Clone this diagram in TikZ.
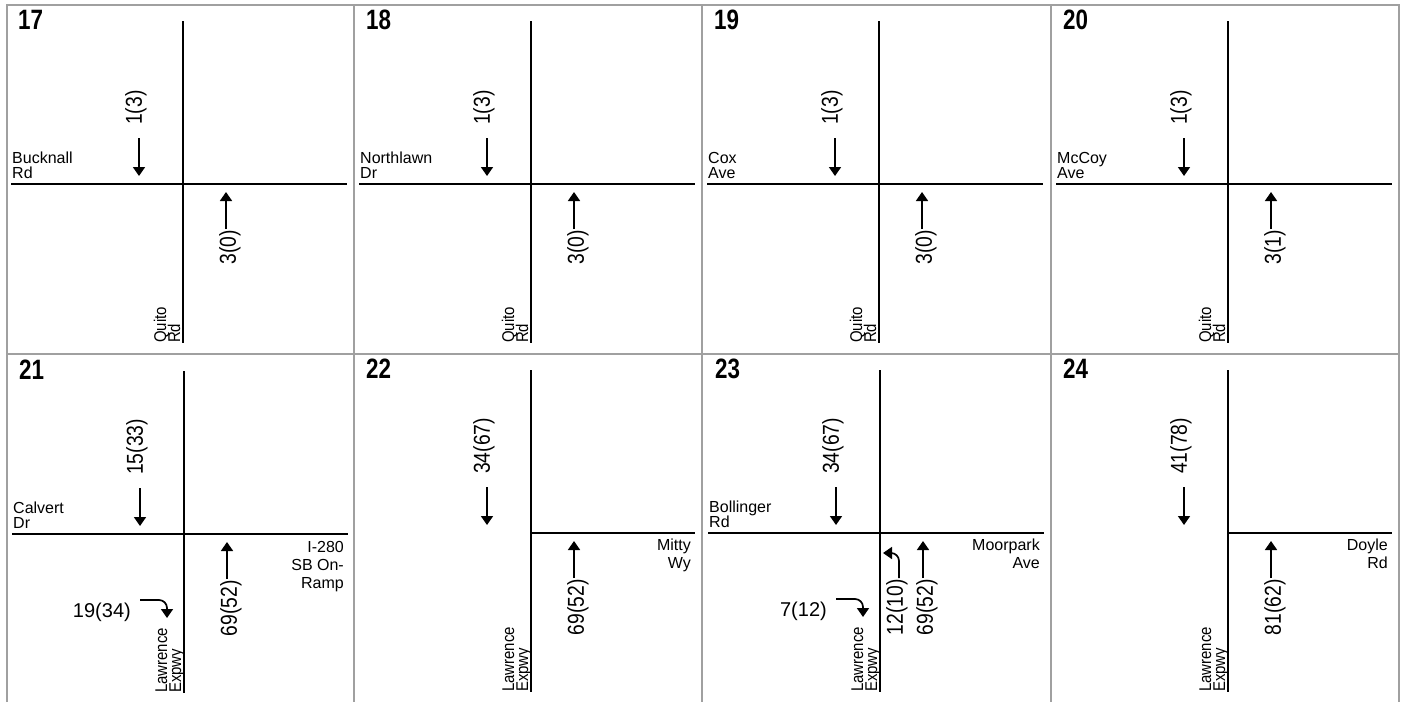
\documentclass[tikz,border=0pt]{standalone}
\usepackage{fontspec}
\setmainfont{Liberation Sans}
\newfontfamily\cntfont{Liberation Sans}[FakeStretch=0.84]
\newfontfamily\rnamefont{Liberation Sans}[FakeStretch=0.88]
\newfontfamily\pnumfont{Liberation Sans}[FakeStretch=0.8]
\usetikzlibrary{arrows.meta}
\definecolor{gridgray}{RGB}{160,160,160}
\tikzset{
  frame/.style={draw=gridgray, line width=2pt},
  road/.style={line width=2pt},
  mv/.style={line width=1.7pt, -{Triangle[length=9pt,width=12pt]}},
  turnmv/.style={mv, rounded corners=8pt},
  pnum/.style={inner sep=0pt, anchor=base west, font=\pnumfont\bfseries\fontsize{28}{30}\selectfont},
  sname/.style={inner sep=0pt, font=\fontsize{16}{18}\selectfont},
  rname/.style={inner sep=0pt, rotate=90, anchor=base west, font=\rnamefont\fontsize{17}{19}\selectfont},
  cnt/.style={inner sep=0pt, rotate=90, font=\cntfont\fontsize{23}{25}\selectfont},
  cnth/.style={inner sep=0pt, font=\fontsize{20}{22}\selectfont},
}
% helpers (coordinates relative to the intersection)
\newcommand\PNum[2]{\node[pnum] (#1num) at (-165,-155) {#2};}
\newcommand\VRoad[1]{\coordinate (#1N) at (0,-163); \coordinate (#1S) at (0,159); \draw[road] (#1N) -- (#1S);}
\newcommand\HRoadFull[1]{\coordinate (#1W) at (-172,0); \coordinate (#1E) at (164,0); \draw[road] (#1W) -- (#1E);}
\newcommand\HRoadEast[1]{\coordinate (#1C) at (0,0); \coordinate (#1E) at (164,0); \draw[road] (#1C) -- (#1E);}
\newcommand\WestName[3]{\node[sname, anchor=base west] (#1wa) at (-171,-21) {#2};
  \node[sname, anchor=base west] (#1wb) at (-171,-6) {#3};}
\newcommand\EastName[3]{\node[sname, anchor=base east] (#1ea) at (160,17) {#2};
  \node[sname, anchor=base east] (#1eb) at (160,35) {#3};}
\newcommand\SouthName[3]{\node[rname] (#1sa) at (-17,159) {#2};
  \node[rname] (#1sb) at (-3,159) {#3};}
\newcommand\SBMove[2]{\node[cnt, anchor=west] (#1sbl) at (-47,-59) {#2};
  \coordinate (#1sbt) at (-44,-46); \coordinate (#1sbh) at (-44,-8);
  \draw[mv] (#1sbt) -- (#1sbh);}
\newcommand\NBMove[2]{\node[cnt, anchor=east] (#1nbl) at (47,46) {#2};
  \coordinate (#1nbt) at (43,45); \coordinate (#1nbh) at (43,8);
  \draw[mv] (#1nbt) -- (#1nbh);}
\newcommand\RTMove[2]{\node[cnth, anchor=east] (#1rtl) at (-53,78) {#2};
  \coordinate (#1rtt) at (-44,66); \coordinate (#1rth) at (-17,84);
  \draw[turnmv] (#1rtt) -| (#1rth);}
\newcommand\LTMove[2]{\node[cnt, anchor=east] (#1ltl) at (17,46) {#2};
  \coordinate (#1ltt) at (19,45); \coordinate (#1lth) at (3,20);
  \draw[turnmv] (#1ltt) |- (#1lth);}

\begin{document}
\begin{tikzpicture}[x=1pt, y=-1pt]
\useasboundingbox (0,0) rectangle (1404,702);
% frame
\coordinate (fTL) at (7,5); \coordinate (fTR) at (1399,5);
\coordinate (fBL) at (7,702); \coordinate (fBR) at (1399,702);
\draw[frame] (fBL) -- (fTL) -- (fTR) -- (fBR);
\coordinate (rL) at (7,354); \coordinate (rR) at (1399,354);
\draw[frame] (rL) -- (rR);
\foreach \xx/\nm in {354/a,702/b,1051/c}{
  \coordinate (c\nm T) at (\xx,5); \coordinate (c\nm B) at (\xx,702);
  \draw[frame] (c\nm T) -- (c\nm B);
}
% ---- row 1 ----
\begin{scope}[shift={(183,184)}]
  \PNum{p17}{17} \VRoad{p17} \HRoadFull{p17}
  \WestName{p17}{Bucknall}{Rd} \SouthName{p17}{Quito}{Rd}
  \SBMove{p17}{1(3)} \NBMove{p17}{3(0)}
\end{scope}
\begin{scope}[shift={(531,184)}]
  \PNum{p18}{18} \VRoad{p18} \HRoadFull{p18}
  \WestName{p18}{Northlawn}{Dr} \SouthName{p18}{Quito}{Rd}
  \SBMove{p18}{1(3)} \NBMove{p18}{3(0)}
\end{scope}
\begin{scope}[shift={(879,184)}]
  \PNum{p19}{19} \VRoad{p19} \HRoadFull{p19}
  \WestName{p19}{Cox}{Ave} \SouthName{p19}{Quito}{Rd}
  \SBMove{p19}{1(3)} \NBMove{p19}{3(0)}
\end{scope}
\begin{scope}[shift={(1228,184)}]
  \PNum{p20}{20} \VRoad{p20} \HRoadFull{p20}
  \WestName{p20}{McCoy}{Ave} \SouthName{p20}{Quito}{Rd}
  \SBMove{p20}{1(3)} \NBMove{p20}{3(1)}
\end{scope}
% ---- row 2 ----
\begin{scope}[shift={(184,534)}]
  \PNum{p21}{21} \VRoad{p21} \HRoadFull{p21}
  \WestName{p21}{Calvert}{Dr} \SouthName{p21}{Lawrence}{Expwy}
  \node[sname, anchor=base east] (p21ea) at (160,18) {I-280};
  \node[sname, anchor=base east] (p21eb) at (160,36) {SB On-};
  \node[sname, anchor=base east] (p21ec) at (160,54) {Ramp};
  \SBMove{p21}{15(33)} \NBMove{p21}{69(52)} \RTMove{p21}{19(34)}
\end{scope}
\begin{scope}[shift={(531,533)}]
  \PNum{p22}{22} \VRoad{p22} \HRoadEast{p22}
  \EastName{p22}{Mitty}{Wy} \SouthName{p22}{Lawrence}{Expwy}
  \SBMove{p22}{34(67)} \NBMove{p22}{69(52)}
\end{scope}
\begin{scope}[shift={(880,533)}]
  \PNum{p23}{23} \VRoad{p23} \HRoadFull{p23}
  \WestName{p23}{Bollinger}{Rd} \EastName{p23}{Moorpark}{Ave}
  \SouthName{p23}{Lawrence}{Expwy}
  \SBMove{p23}{34(67)} \NBMove{p23}{69(52)}
  \LTMove{p23}{12(10)} \RTMove{p23}{7(12)}
\end{scope}
\begin{scope}[shift={(1228,533)}]
  \PNum{p24}{24} \VRoad{p24} \HRoadEast{p24}
  \EastName{p24}{Doyle}{Rd} \SouthName{p24}{Lawrence}{Expwy}
  \SBMove{p24}{41(78)} \NBMove{p24}{81(62)}
\end{scope}
\end{tikzpicture}
\end{document}
